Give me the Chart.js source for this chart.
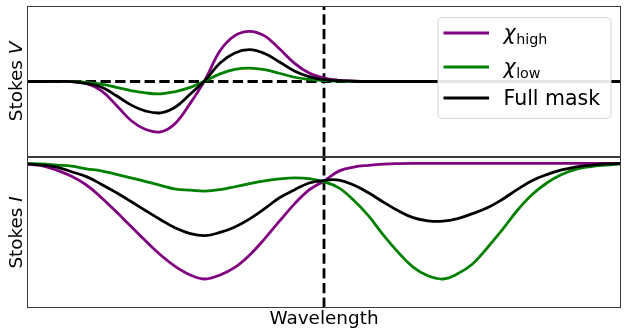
<!DOCTYPE html>
<html>
<head>
<meta charset="UTF-8">
<title>Stokes profiles</title>
<style>
  html, body { margin: 0; padding: 0; background: #fff; }
  #wrap { width: 627px; height: 335px; }
</style>
</head>
<body>
<div id="wrap"><canvas id="chart"></canvas></div>

<script src="https://cdn.jsdelivr.net/npm/chart.js@4.4.0/dist/chart.umd.min.js"></script>

<script>
// wavelength grid (arbitrary units, line centre at 50)
const wavelength = [0, 2.5, 5, 7.5, 10, 12.5, 15, 17.5, 20, 22.5, 25, 27.5, 30, 32.5, 35, 37.5, 40,
  42.5, 45, 47.5, 50, 52.5, 55, 57.5, 60, 62.5, 65, 67.5, 70, 72.5, 75, 77.5, 80, 82.5, 85, 87.5,
  90, 92.5, 95, 97.5, 100];
const lineCentre = 50;

// Stokes V
const vHigh = [0, 0, 0, -0.003, -0.024, -0.121, -0.311, -0.517, -0.637, -0.667, -0.552, -0.287,
  0.025, 0.408, 0.608, 0.665, 0.604, 0.433, 0.244, 0.112, 0.044, 0.016, 0.005, 0, 0, 0, 0, 0, 0,
  0, 0, 0, 0, 0, 0, 0, 0, 0, 0, 0, 0];
const vLow = [0, 0, 0, -0.001, -0.012, -0.036, -0.077, -0.120, -0.152, -0.164, -0.133, -0.079,
  0.008, 0.101, 0.160, 0.177, 0.156, 0.109, 0.056, 0.027, 0.012, 0.005, 0.002, 0, 0, 0, 0, 0, 0,
  0, 0, 0, 0, 0, 0, 0, 0, 0, 0, 0, 0];
const vFull = [0, 0, 0, -0.002, -0.028, -0.074, -0.186, -0.310, -0.392, -0.415, -0.338, -0.165,
  0.016, 0.245, 0.378, 0.421, 0.370, 0.258, 0.140, 0.064, 0.024, 0.010, 0.003, 0, 0, 0, 0, 0, 0,
  0, 0, 0, 0, 0, 0, 0, 0, 0, 0, 0, 0];

// Stokes I
const iHigh = [0.997, 0.992, 0.976, 0.955, 0.925, 0.882, 0.833, 0.782, 0.731, 0.683, 0.643, 0.614,
  0.600, 0.614, 0.640, 0.683, 0.739, 0.800, 0.859, 0.908, 0.939, 0.973, 0.987, 0.993, 0.997, 0.999,
  1, 1, 1, 1, 1, 1, 1, 1, 1, 1, 1, 1, 1, 1, 1];
const iLow = [0.999, 0.998, 0.994, 0.990, 0.981, 0.974, 0.962, 0.950, 0.937, 0.924, 0.911, 0.907,
  0.904, 0.909, 0.919, 0.930, 0.939, 0.946, 0.950, 0.947, 0.936, 0.915, 0.872, 0.818, 0.752, 0.692,
  0.641, 0.611, 0.600, 0.618, 0.652, 0.708, 0.770, 0.836, 0.891, 0.932, 0.961, 0.980, 0.989, 0.994,
  0.998];
const iFull = [0.998, 0.994, 0.987, 0.971, 0.954, 0.928, 0.899, 0.868, 0.836, 0.805, 0.776, 0.757,
  0.750, 0.761, 0.780, 0.808, 0.843, 0.881, 0.908, 0.932, 0.941, 0.942, 0.925, 0.898, 0.866, 0.836,
  0.812, 0.801, 0.800, 0.809, 0.826, 0.846, 0.875, 0.909, 0.940, 0.961, 0.977, 0.988, 0.994, 0.998,
  1];

const seriesNames = ['χ_high', 'χ_low', 'Full mask'];
const seriesColors = ['#800080', '#008000', '#000000'];

const vRange = [-1, 1];
const iRange = [0.5, 1.022];

const FONT = '"DejaVu Sans", sans-serif';

const pts = ys => wavelength.map((x, i) => ({x: x, y: ys[i]}));

function curve(k, ys, axis) {
  return {
    label: seriesNames[k],
    data: pts(ys),
    borderColor: seriesColors[k],
    borderWidth: 2.8,
    pointRadius: 0,
    tension: 0.4,
    borderJoinStyle: 'round',
    yAxisID: axis,
    order: 3 - k   // black on top, like the plotting order
  };
}

function refLine(data, axis) {
  return {
    data: data,
    borderColor: '#000',
    borderWidth: 2.8,
    borderDash: [10.3, 4.4],
    borderCapStyle: 'butt',
    pointRadius: 0,
    yAxisID: axis,
    order: 10
  };
}

// box round each panel
const panelFrame = {
  id: 'panelFrame',
  afterDatasetsDraw(chart) {
    const {ctx, chartArea} = chart;
    ctx.save();
    ctx.strokeStyle = '#3a3a3a';
    ctx.lineWidth = 1;
    for (const id of ['yV', 'yI']) {
      const s = chart.scales[id];
      const l = Math.round(chartArea.left) + 0.5;
      const r = Math.round(chartArea.right) - 0.5;
      const t = Math.round(s.top) + 0.5;
      const b = Math.round(s.bottom) - 0.5;
      ctx.strokeRect(l, t, r - l, b - t);
    }
    ctx.restore();
  }
};

// "Stokes V" / "Stokes I" with the italic letter
const stokesTitles = {
  id: 'stokesTitles',
  afterDraw(chart) {
    const ctx = chart.ctx;
    const normal = '18.4px ' + FONT;
    const italic = 'italic 18.4px ' + FONT;
    for (const [id, letter] of [['yV', 'V'], ['yI', 'I']]) {
      const s = chart.scales[id];
      ctx.save();
      ctx.translate(21.5, (s.top + s.bottom) / 2);
      ctx.rotate(-Math.PI / 2);
      ctx.fillStyle = '#000';
      ctx.textBaseline = 'alphabetic';
      ctx.textAlign = 'left';
      ctx.font = normal;
      const w1 = ctx.measureText('Stokes ').width;
      ctx.font = italic;
      const w2 = ctx.measureText(letter).width;
      const x0 = -(w1 + w2) / 2;
      ctx.font = normal;
      ctx.fillText('Stokes ', x0, 0);
      ctx.font = italic;
      ctx.fillText(letter, x0 + w1, 0);
      ctx.restore();
    }
  }
};

// legend in the upper right of the top panel, with subscripts
const mathLegend = {
  id: 'mathLegend',
  afterDraw(chart) {
    const ctx = chart.ctx;
    const area = chart.chartArea;
    const top = chart.scales.yV.top;
    const boxW = 173, boxH = 101;
    const bx = area.right - 10.5 - boxW;
    const by = top + 11;
    const rows = [16, 50, 81];
    ctx.save();
    ctx.beginPath();
    ctx.roundRect(bx + 0.5, by + 0.5, boxW, boxH, 4);
    ctx.fillStyle = 'rgba(255,255,255,0.9)';
    ctx.fill();
    ctx.strokeStyle = '#d6d6d6';
    ctx.lineWidth = 1;
    ctx.stroke();
    seriesNames.forEach((name, k) => {
      const y = by + rows[k];
      ctx.beginPath();
      ctx.moveTo(bx + 6, y);
      ctx.lineTo(bx + 51.5, y);
      ctx.strokeStyle = seriesColors[k];
      ctx.lineWidth = 2.8;
      ctx.stroke();
      ctx.fillStyle = '#000';
      ctx.textBaseline = 'alphabetic';
      const tx = bx + 66;
      const parts = name.split('_');
      if (parts.length === 2) {
        ctx.font = 'italic 20.5px ' + FONT;
        ctx.fillText(parts[0], tx, y + 7);
        const w = ctx.measureText(parts[0]).width;
        ctx.font = '14.3px ' + FONT;
        ctx.fillText(parts[1], tx + w + 0.5, y + 10.5);
      } else {
        ctx.font = '20.5px ' + FONT;
        ctx.fillText(name, tx, y + 7.4);
      }
    });
    ctx.restore();
  }
};

const hidden = {
  ticks: {display: false},
  grid: {display: false, drawTicks: false},
  border: {display: false}
};

const chart = new Chart(document.getElementById('chart'), {
  type: 'line',
  data: {
    datasets: [
      curve(0, vHigh, 'yV'),
      curve(1, vLow, 'yV'),
      curve(2, vFull, 'yV'),
      curve(0, iHigh, 'yI'),
      curve(1, iLow, 'yI'),
      curve(2, iFull, 'yI'),
      refLine([{x: wavelength[0], y: 0}, {x: wavelength[wavelength.length - 1], y: 0}], 'yV'),
      refLine([{x: lineCentre, y: vRange[0]}, {x: lineCentre, y: vRange[1]}], 'yV'),
      refLine([{x: lineCentre, y: iRange[0]}, {x: lineCentre, y: iRange[1]}], 'yI')
    ]
  },
  options: {
    responsive: true,
    maintainAspectRatio: false,
    animation: false,
    layout: {padding: {left: 27, right: 6, top: 6, bottom: 0}},
    plugins: {
      legend: {display: false},
      tooltip: {enabled: false}
    },
    scales: {
      x: {
        type: 'linear',
        min: wavelength[0],
        max: wavelength[wavelength.length - 1],
        ...hidden,
        title: {
          display: true,
          text: 'Wavelength',
          color: '#000',
          font: {family: FONT, size: 18.4},
          padding: {top: 0, bottom: 5}
        }
      },
      yV: {
        type: 'linear',
        position: 'left',
        stack: 'panels',
        stackWeight: 1,
        weight: 2,
        min: vRange[0],
        max: vRange[1],
        ...hidden
      },
      yI: {
        type: 'linear',
        position: 'left',
        stack: 'panels',
        stackWeight: 1,
        weight: 1,
        min: iRange[0],
        max: iRange[1],
        ...hidden
      }
    }
  },
  plugins: [panelFrame, stokesTitles, mathLegend]
});
</script>
</body>
</html>
